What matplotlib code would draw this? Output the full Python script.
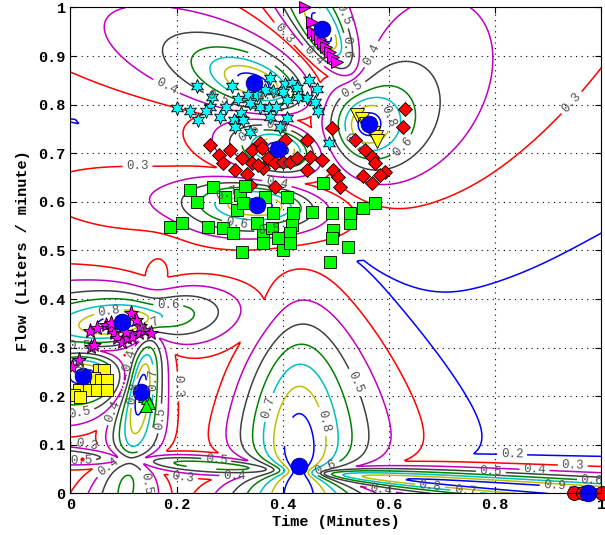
import numpy as np
import matplotlib
matplotlib.use("Agg")
import matplotlib.pyplot as plt

# cluster centres (blue circles) and the ellipse shape of each cluster
cx = [0.474, 0.346, 0.562, 0.391, 0.351, 0.097, 0.024, 0.133, 0.430, 0.975]
cy = [0.956, 0.845, 0.760, 0.709, 0.594, 0.353, 0.242, 0.209, 0.057, 0.002]
ratio = [3.0, 2.0, 1.1, 1.6, 2.4, 3.0, 1.5, 4.5, 3.5, 60.0]
size = [0.8, 1.0, 1.22, 0.9, 0.95, 1.0, 0.7, 0.8, 1.4, 1.1]
angle = [-62, -22, 80, -15, -3, 8, 0, 82, 90, -4.5]
m_fuzzy = 2.25

# data points of each cluster
tri_r_x = [0.442, 0.455, 0.457, 0.464, 0.470, 0.476, 0.481, 0.489, 0.494, 0.502]
tri_r_y = [1.001, 0.970, 0.950, 0.944, 0.935, 0.927, 0.919, 0.909, 0.898, 0.888]

hex_x = [0.238, 0.305, 0.376, 0.404, 0.417, 0.450, 0.464, 0.426, 0.401, 0.382,
         0.366, 0.351, 0.335, 0.316, 0.338, 0.357, 0.374, 0.387, 0.407, 0.429,
         0.445, 0.460, 0.467, 0.266, 0.263, 0.256, 0.241, 0.225, 0.200, 0.282,
         0.322, 0.307, 0.325, 0.310, 0.376, 0.407, 0.395, 0.338, 0.487, 0.293]
hex_y = [0.838, 0.838, 0.854, 0.843, 0.845, 0.851, 0.832, 0.834, 0.827, 0.829,
         0.830, 0.820, 0.820, 0.811, 0.803, 0.796, 0.793, 0.796, 0.810, 0.816,
         0.813, 0.806, 0.786, 0.815, 0.796, 0.786, 0.769, 0.786, 0.793, 0.774,
         0.782, 0.768, 0.768, 0.755, 0.775, 0.772, 0.755, 0.744, 0.722, 0.796]

tri_d_x = [0.540, 0.549, 0.556, 0.564, 0.570, 0.575, 0.577]
tri_d_y = [0.779, 0.770, 0.760, 0.750, 0.742, 0.733, 0.725]

dia_x = [0.263, 0.280, 0.300, 0.287, 0.310, 0.323, 0.342, 0.357, 0.361, 0.342,
         0.332, 0.338, 0.363, 0.372, 0.385, 0.400, 0.413, 0.426, 0.404, 0.445,
         0.451, 0.474, 0.445, 0.492, 0.494, 0.504, 0.508, 0.385, 0.536, 0.555,
         0.568, 0.573, 0.551, 0.568, 0.592, 0.630, 0.626, 0.353, 0.583]
dia_y = [0.717, 0.697, 0.707, 0.680, 0.666, 0.690, 0.707, 0.721, 0.711, 0.680,
         0.657, 0.635, 0.670, 0.690, 0.680, 0.682, 0.682, 0.690, 0.728, 0.728,
         0.693, 0.686, 0.666, 0.752, 0.666, 0.651, 0.631, 0.631, 0.728, 0.707,
         0.693, 0.680, 0.653, 0.639, 0.662, 0.791, 0.754, 0.676, 0.655]

sq_x = [0.225, 0.238, 0.268, 0.291, 0.319, 0.314, 0.325, 0.366, 0.408, 0.476,
        0.381, 0.419, 0.455, 0.492, 0.551, 0.573, 0.187, 0.210, 0.259, 0.287,
        0.306, 0.363, 0.379, 0.417, 0.494, 0.526, 0.391, 0.413, 0.492, 0.523,
        0.323, 0.400, 0.489, 0.351, 0.363, 0.413, 0.329, 0.526]
sq_y = [0.624, 0.600, 0.631, 0.610, 0.614, 0.583, 0.598, 0.610, 0.610, 0.639,
        0.577, 0.577, 0.579, 0.577, 0.587, 0.598, 0.548, 0.556, 0.548, 0.546,
        0.536, 0.532, 0.546, 0.552, 0.542, 0.556, 0.526, 0.536, 0.526, 0.507,
        0.497, 0.501, 0.476, 0.556, 0.515, 0.515, 0.633, 0.577]

pent_x = [0.037, 0.050, 0.067, 0.076, 0.082, 0.088, 0.097, 0.106, 0.116, 0.129,
          0.138, 0.152, 0.131, 0.123, 0.114, 0.076, 0.039, 0.044, 0.016, 0.003, 0.105]
pent_y = [0.334, 0.341, 0.347, 0.341, 0.330, 0.320, 0.312, 0.320, 0.322, 0.330,
          0.336, 0.330, 0.345, 0.357, 0.371, 0.351, 0.301, 0.306, 0.275, 0.260, 0.332]

ysq_x = [0.054, 0.063, 0.044, 0.057, 0.069, 0.025, 0.016, 0.035, 0.050, 0.069, 0.007, 0.018]
ysq_y = [0.254, 0.254, 0.238, 0.234, 0.234, 0.227, 0.213, 0.213, 0.213, 0.213, 0.203, 0.199]

tri_u_x = [0.138, 0.145, 0.148, 0.142]
tri_u_y = [0.200, 0.196, 0.186, 0.180]

dot_x = [0.021]
dot_y = [0.070]

circ_x = [0.948, 0.966, 1.001]
circ_y = [0.002, 0.001, 0.000]

levels = [0.2, 0.3, 0.4, 0.5, 0.6, 0.7, 0.8, 0.9]
level_colors = ['#0000ff', '#ff0000', '#bf00bf', '#404040',
                '#008000', '#00bfbf', '#bfbf00', '#0000ff']

# fuzzy membership surface (max over clusters)
gx, gy = np.meshgrid(np.linspace(0, 1, 500), np.linspace(0, 1, 500))
inv = []
for i in range(len(cx)):
    th = np.deg2rad(angle[i])
    dx = gx - cx[i]
    dy = gy - cy[i]
    a = dx * np.cos(th) + dy * np.sin(th)
    b = -dx * np.sin(th) + dy * np.cos(th)
    d2 = (a ** 2 / ratio[i] + ratio[i] * b ** 2) / size[i] ** 2 + 1e-12
    inv.append((1.0 / d2) ** (1.0 / (m_fuzzy - 1)))
inv = np.array(inv)
Z = (inv / inv.sum(axis=0)).max(axis=0)

mono = 'Liberation Mono'
fig = plt.figure(figsize=(6.05, 5.35), dpi=100)
ax = fig.add_axes([0.1165, 0.0776, 0.8777, 0.9084])

cs = ax.contour(gx, gy, Z, levels=levels, colors=level_colors, linewidths=1.1)
lab = ax.clabel(cs, fontsize=9, colors='#505050', inline=True, fmt='%.1f')
for t in lab:
    t.set_family(mono)

# drop contour labels that sit on top of each other
fig.canvas.draw()
rend = fig.canvas.get_renderer()
kept = []
for t in lab:
    bb = t.get_window_extent(rend).expanded(1.05, 1.1)
    if any(bb.overlaps(k) for k in kept):
        t.set_visible(False)
    else:
        kept.append(bb)

ms_edge = dict(markeredgecolor='k', markeredgewidth=0.6, linestyle='none')
ax.plot(tri_r_x, tri_r_y, '>', color='#ff00ff', ms=9, clip_on=False, **ms_edge)
ax.plot(hex_x, hex_y, marker=(6, 1, 0), color='#00ffff', ms=10, **ms_edge)
ax.plot(tri_d_x, tri_d_y, 'v', color='#ffff00', ms=10, **ms_edge)
ax.plot(dia_x, dia_y, 'D', color='#ff0000', ms=7.5, **ms_edge)
ax.plot(sq_x, sq_y, 's', color='#00ff00', ms=9, **ms_edge)
ax.plot(pent_x, pent_y, '*', color='#ff00ff', ms=11, **ms_edge)
ax.plot(ysq_x, ysq_y, 's', color='#ffff00', ms=8, **ms_edge)
ax.plot(tri_u_x, tri_u_y, '^', color='#00ff00', ms=8, **ms_edge)
ax.plot(dot_x, dot_y, '.', color='#ff0000', ms=4)
ax.plot(circ_x, circ_y, 'o', color='#ff0000', ms=10, clip_on=False, **ms_edge)
ax.plot(cx, cy, 'o', color='#0000ff', ms=12, markeredgecolor='#000080',
        markeredgewidth=0.6, linestyle='none', clip_on=False)

ax.set_xlim(0, 1)
ax.set_ylim(0, 1)
ax.set_xticks([0, 0.2, 0.4, 0.6, 0.8, 1])
ax.set_xticklabels(['0', '0.2', '0.4', '0.6', '0.8', '1'])
ax.set_yticks(np.arange(0, 1.01, 0.1))
ax.set_yticklabels(['0', '0.1', '0.2', '0.3', '0.4', '0.5', '0.6', '0.7', '0.8', '0.9', '1'])
ax.grid(True, linestyle=(0, (1, 4)), color='k', linewidth=0.8)
ax.tick_params(direction='in', top=True, right=True, length=4)
for t in ax.get_xticklabels() + ax.get_yticklabels():
    t.set_family(mono)
    t.set_weight('bold')
    t.set_fontsize(11)
ax.set_xlabel('Time (Minutes)', family=mono, weight='bold', fontsize=11, labelpad=2)
ax.set_ylabel('Flow (Liters / minute)', family=mono, weight='bold', fontsize=11, labelpad=6)

fig.savefig('out.png', dpi=100)
